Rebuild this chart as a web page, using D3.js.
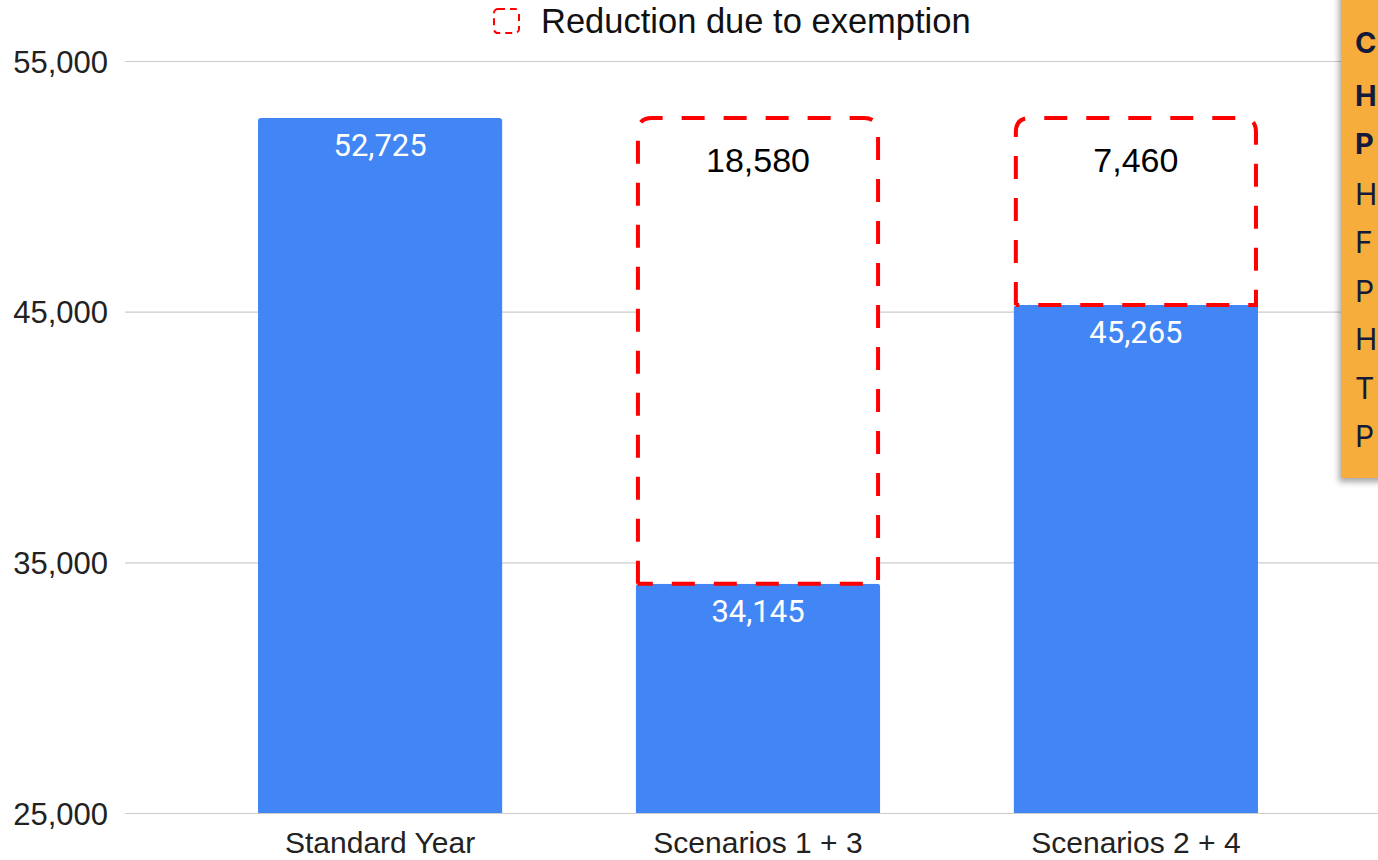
<!DOCTYPE html>
<html>
<head>
<meta charset="utf-8">
<script src="https://cdn.jsdelivr.net/npm/d3@7"></script>
<style>
  html, body { margin: 0; padding: 0; background: #fff; overflow: hidden; }
  svg { display: block; }
</style>
</head>
<body>
<svg id="chart" width="1378" height="860"></svg>
<script>
// Annual totals per scenario
const categories = ["Standard Year", "Scenarios 1 + 3", "Scenarios 2 + 4"];
const netValues = [52725, 34145, 45265];
const reductions = [0, 18580, 7460];
const yTicks = [25000, 35000, 45000, 55000];
const legendLabel = "Reduction due to exemption";

// Side note panel: only the leading letters of each line fit on the page
const noteBold = ["C", "H", "P"];
const noteLines = ["H", "F", "P", "H", "T", "P"];

const svg = d3.select("#chart");
const W = 1378, H = 860;

const x = d3.scaleBand()
  .domain(categories)
  .range([125, 1391])
  .paddingInner(0.354)
  .paddingOuter(0.352);

const y = d3.scaleLinear()
  .domain([25000, 55000])
  .range([813, 61]);

const fmt = d3.format(",");
const labelFont = "Liberation Sans, Arial, sans-serif";

// Gridlines and tick labels
const yAxis = d3.axisLeft(y)
  .tickValues(yTicks)
  .tickSize(-(W - 125))
  .tickPadding(17)
  .tickFormat(fmt);

const gy = svg.append("g")
  .attr("transform", "translate(125,0)")
  .call(yAxis);
gy.select(".domain").remove();
gy.selectAll(".tick line").attr("stroke", "#cccccc").attr("stroke-width", 1.2);
gy.selectAll(".tick text")
  .attr("fill", "#222")
  .attr("font-family", labelFont)
  .attr("font-size", 31)
  .attr("dy", "0.36em");

// Category labels
const xAxis = d3.axisBottom(x).tickSize(0).tickPadding(0);
const gx = svg.append("g")
  .attr("transform", "translate(0,813)")
  .call(xAxis);
gx.select(".domain").remove();
gx.selectAll(".tick text")
  .attr("fill", "#222")
  .attr("font-family", labelFont)
  .attr("font-size", 30)
  .attr("y", 40)
  .attr("dy", 0);

const rows = categories.map((c, i) => ({ cat: c, net: netValues[i], red: reductions[i] }));

// Rounded-top rectangle path
function topRounded(x0, y0, w, h, r) {
  return `M${x0},${y0 + h} L${x0},${y0 + r} Q${x0},${y0} ${x0 + r},${y0}` +
         ` L${x0 + w - r},${y0} Q${x0 + w},${y0} ${x0 + w},${y0 + r} L${x0 + w},${y0 + h}`;
}

// Blue bars
svg.append("g").selectAll("path.bar")
  .data(rows)
  .join("path")
  .attr("class", "bar")
  .attr("fill", "#4285f4")
  .attr("d", d => {
    const x0 = x(d.cat), w = x.bandwidth();
    const top = y(d.net), h = y(25000) - top;
    return topRounded(x0, top, w, h, 3) + "Z";
  });

// Dashed reduction boxes
const redRows = rows.filter(d => d.red > 0);
const boxes = svg.append("g");
boxes.selectAll("path.fillbox")
  .data(redRows)
  .join("path")
  .attr("fill", "#fff")
  .attr("d", d => {
    const x0 = x(d.cat), w = x.bandwidth();
    const top = y(d.net + d.red), h = y(d.net) - top;
    return topRounded(x0, top, w, h, 14) + "Z";
  });
boxes.selectAll("path.dash")
  .data(redRows)
  .join("path")
  .attr("fill", "none")
  .attr("stroke", "#ff0000")
  .attr("stroke-width", 4)
  .attr("stroke-dasharray", "23,19")
  .attr("d", d => {
    const x0 = x(d.cat) + 2, w = x.bandwidth() - 4;
    const top = y(d.net + d.red), h = y(d.net) - top;
    return topRounded(x0, top, w, h, 14) + ` L${x0},${top + h}`;
  });

// Value labels inside bars
svg.append("g").selectAll("text")
  .data(rows)
  .join("text")
  .attr("x", d => x(d.cat) + x.bandwidth() / 2)
  .attr("y", d => y(d.net) + 38)
  .attr("text-anchor", "middle")
  .attr("fill", "#ffffff")
  .attr("font-family", "Roboto, sans-serif")
  .attr("font-size", 31)
  .text(d => fmt(d.net));

// Reduction labels
svg.append("g").selectAll("text")
  .data(redRows)
  .join("text")
  .attr("x", d => x(d.cat) + x.bandwidth() / 2)
  .attr("y", d => y(d.net + d.red) + 54)
  .attr("text-anchor", "middle")
  .attr("fill", "#000")
  .attr("font-family", labelFont)
  .attr("font-size", 34)
  .text(d => fmt(d.red));

// Legend
const lg = svg.append("g");
lg.append("rect")
  .attr("x", 494).attr("y", 9).attr("width", 25).attr("height", 24)
  .attr("rx", 4)
  .attr("fill", "none")
  .attr("stroke", "#ff0000")
  .attr("stroke-width", 2)
  .attr("stroke-dasharray", "7,5");
lg.append("text")
  .attr("x", 541).attr("y", 33)
  .attr("fill", "#111")
  .attr("font-family", labelFont)
  .attr("font-size", 34.5)
  .text(legendLabel);

// Side note panel
const defs = svg.append("defs");
const f = defs.append("filter").attr("id", "shadow")
  .attr("x", "-20%").attr("y", "-10%").attr("width", "140%").attr("height", "130%");
f.append("feDropShadow")
  .attr("dx", -2).attr("dy", 4).attr("stdDeviation", 3)
  .attr("flood-color", "#000").attr("flood-opacity", 0.35);

const panel = svg.append("g");
panel.append("rect")
  .attr("x", 1341).attr("y", -10).attr("width", 300).attr("height", 488)
  .attr("fill", "#f7ad3b")
  .attr("filter", "url(#shadow)");

const noteFont = "Inter, 'Open Sans', sans-serif";
panel.selectAll("text.b")
  .data(noteBold)
  .join("text")
  .attr("x", 1355)
  .attr("y", (d, i) => [53, 106, 154][i])
  .attr("fill", "#141a3a")
  .attr("font-family", noteFont)
  .attr("font-weight", 700)
  .attr("font-size", 29)
  .text(d => d);
panel.selectAll("text.r")
  .data(noteLines)
  .join("text")
  .attr("x", 1355)
  .attr("y", (d, i) => 205 + i * 48.4)
  .attr("fill", "#141a3a")
  .attr("font-family", noteFont)
  .attr("font-size", 30)
  .text(d => d);
</script>
</body>
</html>
